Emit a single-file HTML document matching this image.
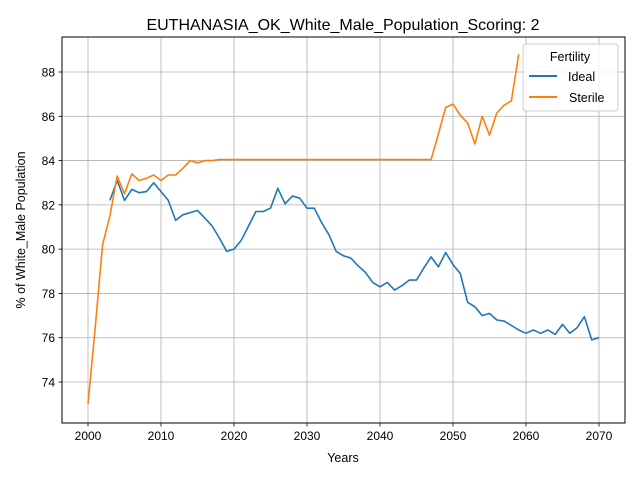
<!DOCTYPE html>
<html><head><meta charset="utf-8"><style>
body{margin:0;background:#fff}
svg{font-family:"Liberation Sans","DejaVu Sans",sans-serif}
</style></head><body>
<svg id="chart" width="640" height="480">
<rect width="640" height="480" fill="#fff"/>
<g id="grid"></g>
<g id="axes"></g>
<g id="series"></g>
<text x="343" y="30" text-anchor="middle" font-size="16">EUTHANASIA_OK_White_Male_Population_Scoring: 2</text>
<text x="343" y="462" text-anchor="middle" font-size="12.5">Years</text>
<text transform="translate(25,230) rotate(-90)" text-anchor="middle" font-size="12.5">% of White_Male Population</text>
<g>
<rect x="523" y="44" width="95" height="67" rx="3" fill="#fff" fill-opacity="0.8" stroke="#ccc"/>
<text x="570" y="61" text-anchor="middle" font-size="12.5">Fertility</text>
<line x1="529" y1="76" x2="557" y2="76" stroke="#1f77b4" stroke-width="2"/>
<text x="568" y="81" font-size="12.5">Ideal</text>
<line x1="529" y1="97" x2="557" y2="97" stroke="#ff7f0e" stroke-width="2"/>
<text x="569" y="102" font-size="12.5">Sterile</text>
</g>
</svg>
<script>
const xTicks=[2000,2010,2020,2030,2040,2050,2060,2070];
const yTicks=[74,76,78,80,82,84,86,88];
const idealStart=2003;
const idealValues=[82.2,83.1,82.2,82.7,82.55,82.6,83.0,82.6,82.2,81.3,81.55,81.65,81.75,81.4,81.05,80.5,79.9,80.0,80.4,81.05,81.7,81.7,81.85,82.75,82.05,82.4,82.3,81.85,81.85,81.2,80.65,79.9,79.7,79.6,79.25,78.95,78.5,78.3,78.5,78.15,78.35,78.6,78.6,79.15,79.65,79.2,79.85,79.3,78.9,77.6,77.4,77.0,77.1,76.8,76.75,76.55,76.35,76.2,76.35,76.2,76.35,76.15,76.6,76.2,76.45,76.95,75.9,76.0];
const sterileStart=2000;
const sterileValues=[73.0,76.5,80.2,81.5,83.3,82.5,83.4,83.1,83.2,83.35,83.1,83.35,83.35,83.65,84.0,83.9,84.0,84.0,84.05,84.05,84.05,84.05,84.05,84.05,84.05,84.05,84.05,84.05,84.05,84.05,84.05,84.05,84.05,84.05,84.05,84.05,84.05,84.05,84.05,84.05,84.05,84.05,84.05,84.05,84.05,84.05,84.05,84.05,85.2,86.4,86.55,86.05,85.7,84.75,86.0,85.15,86.15,86.5,86.7,88.8];
const L=62,R=625,T=37,B=423;
const xs=yr=>88+(yr-2000)*(511/70);
const ys=v=>72+(88-v)*(310/14);
const NS="http://www.w3.org/2000/svg";
function mk(tag,attrs,parent){const e=document.createElementNS(NS,tag);for(const k in attrs)e.setAttribute(k,attrs[k]);parent.appendChild(e);return e;}
const grid=document.getElementById('grid'),axes=document.getElementById('axes'),series=document.getElementById('series');
xTicks.forEach(t=>{const x=xs(t);
 const g=mk('line',{x1:x,x2:x,y1:T,y2:B,stroke:'#b0b0b0','stroke-width':0.8},grid);
 
 
 mk('line',{x1:x,x2:x,y1:B,y2:B+3.5,stroke:'#000','stroke-width':0.8},axes);
 const tx=mk('text',{x:x,y:B+17,'text-anchor':'middle','font-size':12},axes);tx.textContent=t;
 
 
});
yTicks.forEach(t=>{const y=ys(t);
 const g=mk('line',{x1:L,x2:R,y1:y,y2:y,stroke:'#b0b0b0','stroke-width':0.8},grid);
 
 
 mk('line',{x1:L-3.5,x2:L,y1:y,y2:y,stroke:'#000','stroke-width':0.8},axes);
 const tx=mk('text',{x:L-7,y:y+4.5,'text-anchor':'end','font-size':12},axes);tx.textContent=t;
 
 
});
const frame=mk('rect',{x:L,y:T,width:R-L,height:B-T,fill:'none',stroke:'#000','stroke-width':1},axes);


function line(start,vals,color,name){
 const pts=vals.map((v,i)=>xs(start+i).toFixed(1)+','+ys(v).toFixed(1)).join(' ');
 const p=mk('polyline',{points:pts,fill:'none',stroke:color,'stroke-width':1.6,'stroke-linejoin':'round'},series);
 
 
}
line(idealStart,idealValues,'#1f77b4','ideal-line');
line(sterileStart,sterileValues,'#ff7f0e','sterile-line');
</script>
</body></html>
